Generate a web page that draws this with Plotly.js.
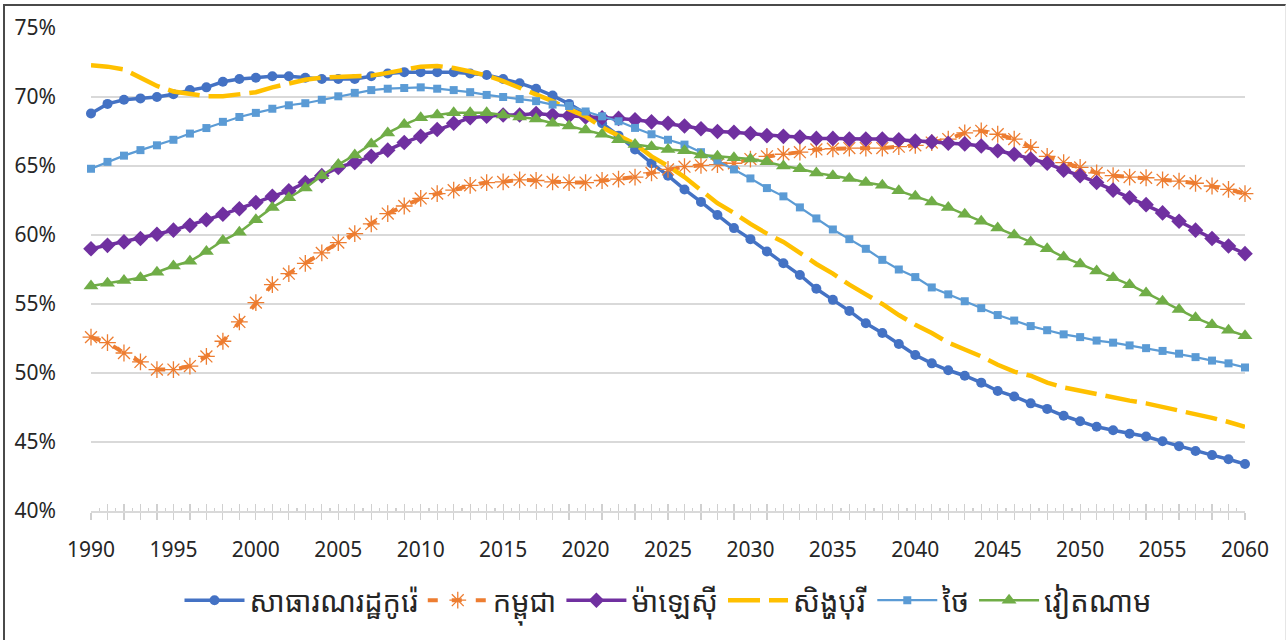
<!DOCTYPE html>
<html>
<head>
<meta charset="utf-8">
<script src="https://cdn.plot.ly/plotly-3.0.1.min.js"></script>
<style>
html,body{margin:0;padding:0;background:#fff;}
#frame{position:absolute;left:3px;top:4px;width:1280px;height:634px;border-top:2px solid #4a4a4a;border-left:2px solid #4a4a4a;border-right:1px solid #e6e6e6;border-bottom:1px solid #e6e6e6;}
#chart{position:absolute;left:0;top:0;width:1286px;height:640px;}
</style>
</head>
<body>
<div id="frame"></div>
<div id="chart"></div>
<script>
const years = [1990,1991,1992,1993,1994,1995,1996,1997,1998,1999,
2000,2001,2002,2003,2004,2005,2006,2007,2008,2009,
2010,2011,2012,2013,2014,2015,2016,2017,2018,2019,
2020,2021,2022,2023,2024,2025,2026,2027,2028,2029,
2030,2031,2032,2033,2034,2035,2036,2037,2038,2039,
2040,2041,2042,2043,2044,2045,2046,2047,2048,2049,
2050,2051,2052,2053,2054,2055,2056,2057,2058,2059,2060];

const seriesNames = ["សាធារណរដ្ឋកូរ៉េ","កម្ពុជា","ម៉ាឡេស៊ី","សិង្ហបុរី","ថៃ","វៀតណាម"];

const korea = [68.8,69.5,69.8,69.9,70.0,70.2,70.5,70.7,71.1,71.3,
71.4,71.5,71.5,71.4,71.3,71.3,71.3,71.5,71.7,71.8,
71.8,71.8,71.8,71.7,71.6,71.3,71.0,70.6,70.1,69.5,
68.8,68.1,67.2,66.2,65.2,64.3,63.3,62.4,61.45,60.5,
59.7,58.8,57.95,57.1,56.1,55.3,54.5,53.6,52.9,52.1,
51.3,50.7,50.2,49.8,49.3,48.7,48.3,47.8,47.4,46.9,
46.5,46.1,45.85,45.6,45.4,45.05,44.7,44.35,44.05,43.75,43.4];

const cambodia = [52.6,52.2,51.45,50.8,50.25,50.25,50.5,51.2,52.3,53.7,
55.1,56.4,57.2,57.95,58.7,59.45,60.1,60.8,61.55,62.1,
62.65,63.0,63.25,63.6,63.8,63.85,64.0,63.95,63.85,63.8,
63.8,63.95,64.05,64.2,64.5,64.75,64.95,65.05,65.1,65.2,
65.5,65.7,65.85,66.0,66.2,66.25,66.3,66.3,66.3,66.4,
66.5,66.7,66.95,67.4,67.55,67.3,66.95,66.35,65.7,65.25,
64.9,64.5,64.3,64.2,64.15,64.0,63.9,63.75,63.55,63.3,63.0];

const malaysia = [59.0,59.25,59.5,59.75,60.05,60.35,60.7,61.1,61.5,61.9,
62.35,62.8,63.2,63.8,64.3,64.9,65.25,65.7,66.15,66.7,
67.15,67.65,68.1,68.5,68.6,68.7,68.7,68.8,68.7,68.65,
68.55,68.5,68.45,68.35,68.2,68.1,67.9,67.7,67.5,67.45,
67.35,67.2,67.15,67.1,67.0,67.0,66.95,66.95,66.95,66.9,
66.8,66.75,66.65,66.6,66.45,66.1,65.85,65.5,65.2,64.7,
64.3,63.8,63.25,62.7,62.2,61.6,61.0,60.35,59.75,59.2,58.65];

const singapore = [72.3,72.2,72.0,71.4,70.8,70.4,70.2,70.05,70.05,70.2,
70.35,70.7,71.0,71.25,71.4,71.45,71.45,71.55,71.75,72.0,
72.2,72.25,72.1,71.85,71.55,71.15,70.65,70.2,69.7,69.1,
68.6,67.8,67.2,66.6,65.7,65.0,64.2,63.2,62.3,61.6,
60.8,60.1,59.5,58.7,57.9,57.2,56.4,55.7,55.0,54.2,
53.5,52.9,52.2,51.7,51.2,50.6,50.1,49.8,49.3,48.95,
48.7,48.45,48.2,48.0,47.8,47.55,47.3,47.05,46.75,46.45,46.1];

const thailand = [64.8,65.3,65.75,66.15,66.5,66.9,67.35,67.75,68.2,68.55,
68.85,69.15,69.4,69.55,69.8,70.05,70.3,70.5,70.6,70.65,
70.7,70.6,70.5,70.35,70.15,70.0,69.85,69.7,69.45,69.35,
68.95,68.6,68.24,67.76,67.3,66.9,66.55,66.0,65.4,64.75,
64.1,63.4,62.8,62.0,61.2,60.4,59.7,59.0,58.2,57.5,
56.95,56.2,55.7,55.2,54.7,54.2,53.8,53.4,53.1,52.8,
52.6,52.35,52.2,52.0,51.8,51.6,51.4,51.15,50.9,50.7,50.4];

const vietnam = [56.3,56.5,56.7,56.9,57.3,57.75,58.1,58.8,59.6,60.2,
61.1,62.0,62.7,63.4,64.3,65.1,65.8,66.6,67.4,68.0,
68.5,68.7,68.85,68.85,68.85,68.7,68.55,68.4,68.1,67.9,
67.6,67.3,66.9,66.55,66.4,66.2,66.1,65.8,65.7,65.6,
65.5,65.3,65.0,64.8,64.5,64.3,64.1,63.8,63.6,63.2,
62.8,62.4,62.0,61.5,61.0,60.5,60.0,59.5,59.0,58.4,
57.9,57.4,56.9,56.4,55.8,55.2,54.6,54.0,53.5,53.1,52.7];

const yTicks = [40,45,50,55,60,65,70,75];
const yTickText = ["40%","45%","50%","55%","60%","65%","70%","75%"];
const xLabelYears = [1990,1995,2000,2005,2010,2015,2020,2025,2030,2035,2040,2045,2050,2055,2060];

const latin = "'Noto Sans', 'Open Sans', sans-serif";
const khmer = "'Noto Sans Khmer','Khmer OS','Khmer OS System','Noto Sans', sans-serif";

const traces = [
  {x: years, y: korea, name: seriesNames[0], mode: 'lines+markers', cliponaxis:false,
   line: {color: '#4472C4', width: 3.5}, marker: {symbol: 'circle', size: 10, color: '#4472C4'}},
  {x: years, y: cambodia, name: seriesNames[1], mode: 'lines+markers', cliponaxis:false,
   line: {color: '#ED7D31', width: 4, dash: '10px,14px'},
   marker: {symbol: 'asterisk-open', size: 14, color: '#ED7D31', line: {color: '#ED7D31', width: 1.3}}},
  {x: years, y: malaysia, name: seriesNames[2], mode: 'lines+markers', cliponaxis:false,
   line: {color: '#7030A0', width: 3.5}, marker: {symbol: 'diamond', size: 12, color: '#7030A0'}},
  {x: years, y: singapore, name: seriesNames[3], mode: 'lines', cliponaxis:false,
   line: {color: '#FFC000', width: 4.5, dash: '32px,9px'}},
  {x: years, y: thailand, name: seriesNames[4], mode: 'lines+markers', cliponaxis:false,
   line: {color: '#5B9BD5', width: 2.2}, marker: {symbol: 'square', size: 8, color: '#5B9BD5'}},
  {x: years, y: vietnam, name: seriesNames[5], mode: 'lines+markers', cliponaxis:false,
   line: {color: '#70AD47', width: 2.5}, marker: {symbol: 'triangle-up', size: 13, color: '#70AD47'}},
  {x: [], y: [], xaxis: 'x2', yaxis: 'y', showlegend: false, hoverinfo: 'skip', mode: 'lines'}
];

const layout = {
  width: 1286, height: 640,
  paper_bgcolor: 'rgba(0,0,0,0)', plot_bgcolor: 'rgba(0,0,0,0)',
  margin: {l: 91, r: 41, t: 28, b: 129},
  showlegend: true,
  legend: {orientation: 'h', x: 0.5, xanchor: 'center', y: -0.185, yanchor: 'middle',
    font: {family: khmer, size: 29, color: '#262626'}, itemwidth: 60, tracegroupgap: 0,
    traceorder: 'normal'},
  xaxis: {type: 'linear', range: [1990, 2060], tickvals: years,
    ticktext: years.map(function(v){ return xLabelYears.indexOf(v) >= 0 ? String(v) : ''; }),
    showgrid: false, zeroline: false, showline: true, linecolor: '#d9d9d9', linewidth: 1.5,
    ticks: 'outside', ticklen: 7, tickcolor: '#d0d0d0', tickwidth: 1.2,
    ticklabelstandoff: 12,
    tickfont: {family: latin, size: 21, color: '#262626'}},
  xaxis2: {type: 'linear', range: [1990, 2060], overlaying: 'x', anchor: 'y', side: 'bottom',
    dtick: 1, tick0: 1990, ticks: 'inside', ticklen: 7, tickcolor: '#d0d0d0', tickwidth: 1.2,
    showticklabels: false, showgrid: false, zeroline: false, showline: false,
    minor: {dtick: 0.5, ticks: 'inside', ticklen: 3, tickcolor: '#d0d0d0'}},
  yaxis: {range: [40, 75], tickvals: yTicks, ticktext: yTickText, showgrid: true, gridcolor: '#d9d9d9',
    gridwidth: 1.5, zeroline: false, showline: false, ticks: '', ticklabelstandoff: 34,
    tickfont: {family: latin, size: 21, color: '#262626'}}
};

Plotly.newPlot('chart', traces, layout, {displayModeBar: false, staticPlot: true});
</script>
</body>
</html>
